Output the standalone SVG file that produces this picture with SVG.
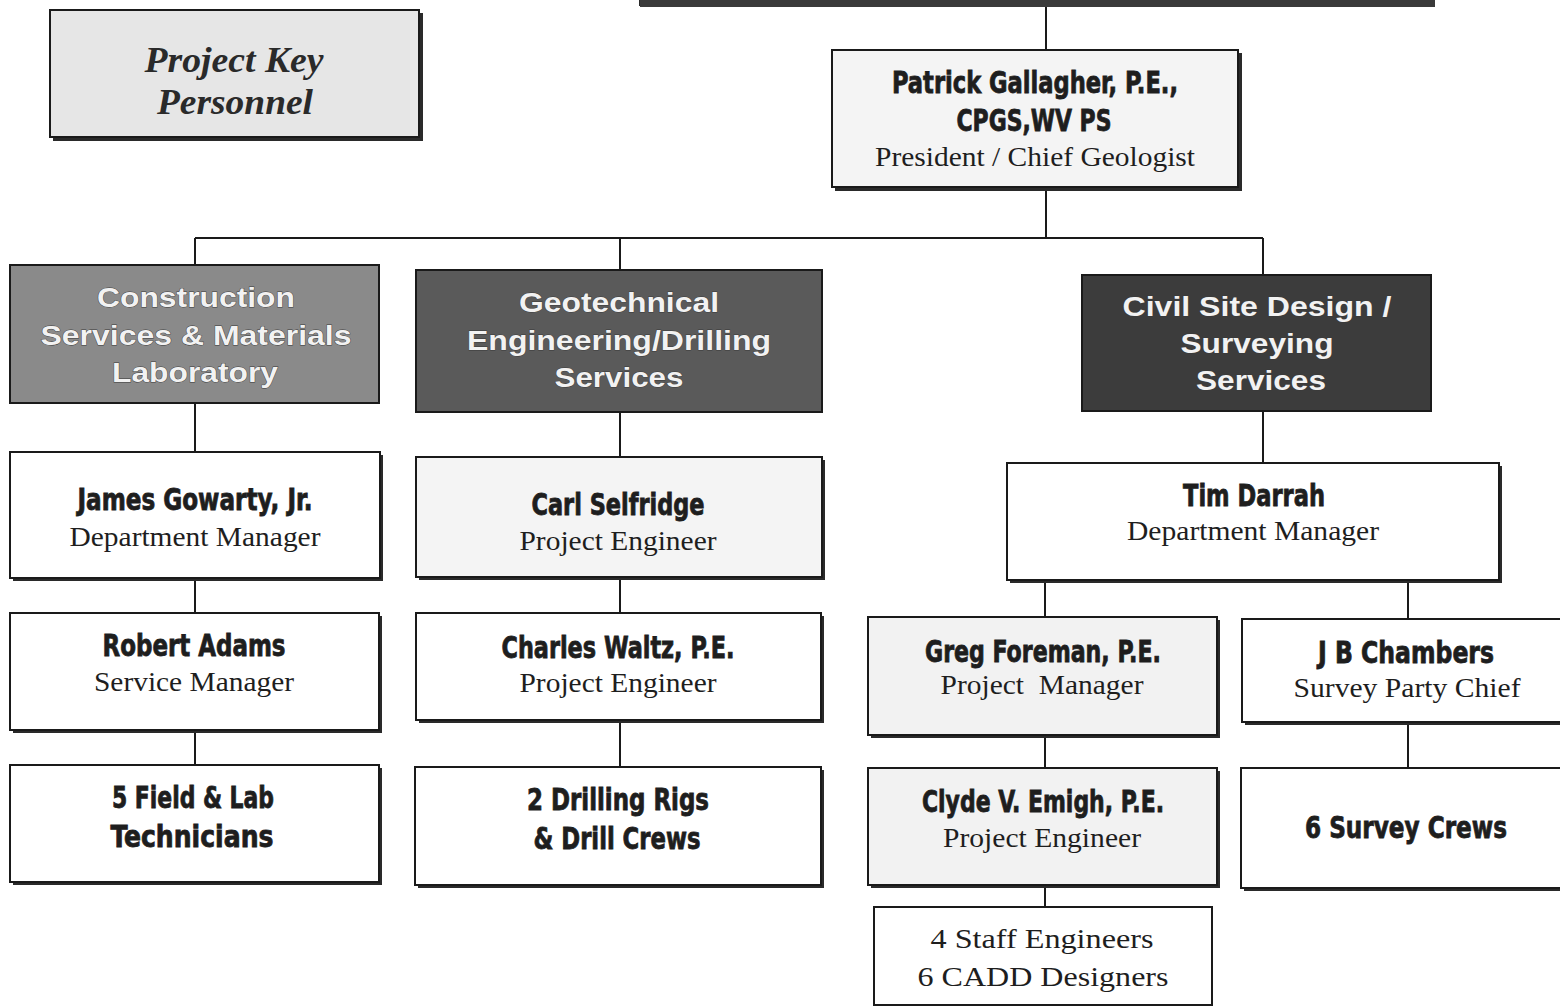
<svg xmlns="http://www.w3.org/2000/svg" width="1560" height="1008" viewBox="0 0 1560 1008">
<style>
.box{stroke:#1a1a1a;stroke-width:2}
.sh{fill:#2a2a2a}
.w{fill:#ffffff}
.lt{fill:#f4f4f4}
.nm{font-family:"Liberation Sans Narrow","DejaVu Sans Condensed",sans-serif;font-weight:bold;font-size:31px;fill:#1e1e1e;stroke:#1e1e1e;stroke-width:0.8;text-anchor:middle}
.tt{font-family:"Liberation Serif","Times New Roman",serif;font-size:28px;fill:#1e1e1e;text-anchor:middle}
.dp{font-family:"Liberation Sans",Arial,sans-serif;font-weight:bold;font-size:27px;fill:#f2f2f2;stroke:#3a3a3a;stroke-width:0.8;paint-order:stroke;text-anchor:middle}
.key{font-family:"Liberation Serif","Times New Roman",serif;font-style:italic;font-weight:bold;font-size:35px;fill:#2a2a2a;text-anchor:middle}
.ln{stroke:#1a1a1a;stroke-width:2;fill:none}
</style>
<rect width="1560" height="1008" fill="#ffffff"/>

<g id="top-box">
<rect x="640" y="-40" width="792" height="45" fill="#ffffff" stroke="#2a2a2a" stroke-width="2"/>
<rect x="640" y="0" width="795" height="7" fill="#3a3a3a"/>
</g>

<g id="connectors">
<path class="ln" d="M1046 7 V50"/>
<path class="ln" d="M1046 190 V238 M195 238 H1263 M195 238 V265 M620 238 V270 M1263 238 V275"/>
<path class="ln" d="M195 403 V452 M620 412 V457 M1263 411 V463"/>
<path class="ln" d="M195 579 V613 M620 578 V613 M1045 581 V617 M1408 581 V619"/>
<path class="ln" d="M195 731 V765 M620 721 V767 M1045 736 V768 M1408 723 V768"/>
<path class="ln" d="M1045 886 V907"/>
</g>

<g id="key-personnel">
<rect class="sh" x="53" y="13" width="370" height="128"/>
<rect class="box" x="50" y="10" width="369" height="127" fill="#e6e6e6"/>
<text class="key" x="234" y="72" textLength="179" lengthAdjust="spacingAndGlyphs">Project Key</text>
<text class="key" x="235" y="114" textLength="156" lengthAdjust="spacingAndGlyphs">Personnel</text>
</g>

<g id="patrick">
<rect class="sh" x="835" y="53" width="407" height="138"/>
<rect class="box lt" x="832" y="50" width="406" height="137"/>
<text class="nm" x="1035" y="93" font-size="34" textLength="286" lengthAdjust="spacingAndGlyphs">Patrick Gallagher, P.E.,</text>
<text class="nm" x="1034" y="131" font-size="34" textLength="155" lengthAdjust="spacingAndGlyphs">CPGS,WV PS</text>
<text class="tt" x="1035" y="166" textLength="320" lengthAdjust="spacingAndGlyphs">President / Chief Geologist</text>
</g>

<g id="construction">
<rect class="box" x="10" y="265" width="369" height="138" fill="#8a8a8a"/>
<text class="dp" x="196" y="307" textLength="198" lengthAdjust="spacingAndGlyphs">Construction</text>
<text class="dp" x="196" y="345" textLength="311" lengthAdjust="spacingAndGlyphs">Services &amp; Materials</text>
<text class="dp" x="195" y="382" textLength="166" lengthAdjust="spacingAndGlyphs">Laboratory</text>
</g>

<g id="geotechnical">
<rect class="box" x="416" y="270" width="406" height="142" fill="#5a5a5a"/>
<text class="dp" x="619" y="312" textLength="200" lengthAdjust="spacingAndGlyphs">Geotechnical</text>
<text class="dp" x="619" y="350" textLength="304" lengthAdjust="spacingAndGlyphs">Engineering/Drilling</text>
<text class="dp" x="619" y="387" textLength="129" lengthAdjust="spacingAndGlyphs">Services</text>
</g>

<g id="civil">
<rect class="box" x="1082" y="275" width="349" height="136" fill="#3c3c3c"/>
<text class="dp" x="1257" y="316" textLength="269" lengthAdjust="spacingAndGlyphs">Civil Site Design /</text>
<text class="dp" x="1257" y="353" textLength="153" lengthAdjust="spacingAndGlyphs">Surveying</text>
<text class="dp" x="1261" y="390" textLength="130" lengthAdjust="spacingAndGlyphs">Services</text>
</g>

<g id="james">
<rect class="sh" x="13" y="455" width="370" height="126"/>
<rect class="box w" x="10" y="452" width="370" height="126"/>
<text class="nm" x="195" y="510" textLength="235" lengthAdjust="spacingAndGlyphs">James Gowarty, Jr.</text>
<text class="tt" x="195" y="546" textLength="251" lengthAdjust="spacingAndGlyphs">Department Manager</text>
</g>

<g id="carl">
<rect class="sh" x="419" y="460" width="406" height="120"/>
<rect class="box lt" x="416" y="457" width="406" height="120"/>
<text class="nm" x="618" y="515" textLength="173" lengthAdjust="spacingAndGlyphs">Carl Selfridge</text>
<text class="tt" x="618" y="550" textLength="197" lengthAdjust="spacingAndGlyphs">Project Engineer</text>
</g>

<g id="tim">
<rect class="sh" x="1010" y="466" width="492" height="117"/>
<rect class="box w" x="1007" y="463" width="492" height="117"/>
<text class="nm" x="1254" y="506" textLength="142" lengthAdjust="spacingAndGlyphs">Tim Darrah</text>
<text class="tt" x="1253" y="540" textLength="252" lengthAdjust="spacingAndGlyphs">Department Manager</text>
</g>

<g id="robert">
<rect class="sh" x="13" y="616" width="369" height="117"/>
<rect class="box w" x="10" y="613" width="369" height="117"/>
<text class="nm" x="194" y="656" textLength="183" lengthAdjust="spacingAndGlyphs">Robert Adams</text>
<text class="tt" x="194" y="691" textLength="200" lengthAdjust="spacingAndGlyphs">Service Manager</text>
</g>

<g id="charles">
<rect class="sh" x="419" y="616" width="405" height="107"/>
<rect class="box w" x="416" y="613" width="405" height="107"/>
<text class="nm" x="618" y="658" textLength="233" lengthAdjust="spacingAndGlyphs">Charles Waltz, P.E.</text>
<text class="tt" x="618" y="692" textLength="197" lengthAdjust="spacingAndGlyphs">Project Engineer</text>
</g>

<g id="greg">
<rect class="sh" x="871" y="620" width="349" height="118"/>
<rect class="box" x="868" y="617" width="349" height="118" fill="#f2f2f2"/>
<text class="nm" x="1043" y="662" textLength="236" lengthAdjust="spacingAndGlyphs">Greg Foreman, P.E.</text>
<text class="tt" x="1042" y="694" textLength="203" lengthAdjust="spacingAndGlyphs" xml:space="preserve">Project  Manager</text>
</g>

<g id="jb">
<rect class="sh" x="1245" y="622" width="318" height="103"/>
<rect class="box w" x="1242" y="619" width="320" height="103"/>
<text class="nm" x="1406" y="663" textLength="176" lengthAdjust="spacingAndGlyphs">J B Chambers</text>
<text class="tt" x="1407" y="697" textLength="227" lengthAdjust="spacingAndGlyphs">Survey Party Chief</text>
</g>

<g id="field-lab">
<rect class="sh" x="13" y="768" width="369" height="117"/>
<rect class="box w" x="10" y="765" width="369" height="117"/>
<text class="nm" x="193" y="808" textLength="162" lengthAdjust="spacingAndGlyphs">5 Field &amp; Lab</text>
<text class="nm" x="192" y="847" textLength="163" lengthAdjust="spacingAndGlyphs">Technicians</text>
</g>

<g id="drilling">
<rect class="sh" x="418" y="770" width="406" height="118"/>
<rect class="box w" x="415" y="767" width="406" height="118"/>
<text class="nm" x="618" y="810" textLength="182" lengthAdjust="spacingAndGlyphs">2 Drilling Rigs</text>
<text class="nm" x="617" y="849" textLength="167" lengthAdjust="spacingAndGlyphs">&amp; Drill Crews</text>
</g>

<g id="clyde">
<rect class="sh" x="871" y="771" width="349" height="117"/>
<rect class="box" x="868" y="768" width="349" height="117" fill="#f2f2f2"/>
<text class="nm" x="1043" y="812" textLength="242" lengthAdjust="spacingAndGlyphs">Clyde V. Emigh, P.E.</text>
<text class="tt" x="1042" y="847" textLength="198" lengthAdjust="spacingAndGlyphs">Project Engineer</text>
</g>

<g id="survey-crews">
<rect class="sh" x="1244" y="771" width="319" height="120"/>
<rect class="box w" x="1241" y="768" width="321" height="120"/>
<text class="nm" x="1406" y="838" textLength="202" lengthAdjust="spacingAndGlyphs">6 Survey Crews</text>
</g>

<g id="staff">
<rect class="box w" x="874" y="907" width="338" height="98"/>
<text class="tt" x="1042" y="948" textLength="223" lengthAdjust="spacingAndGlyphs">4 Staff Engineers</text>
<text class="tt" x="1043" y="986" textLength="251" lengthAdjust="spacingAndGlyphs">6 CADD Designers</text>
</g>
</svg>
